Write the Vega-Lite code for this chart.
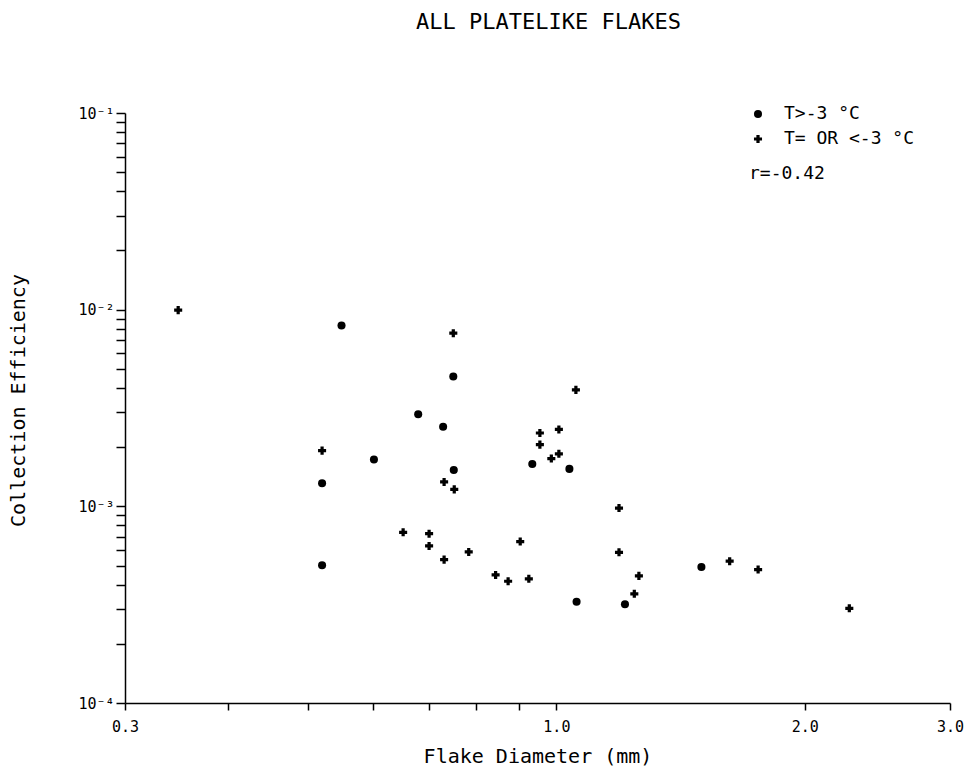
{
  "$schema": "https://vega.github.io/schema/vega-lite/v6.json",
  "width": 825,
  "height": 590,
  "autosize": {"type": "none"},
  "padding": {"left": 125, "top": 113, "right": 26, "bottom": 66},
  "background": "white",
  "config": {"view": {"stroke": null}, "font": "DejaVu Sans Mono"},
  "title": {"text": "ALL PLATELIKE FLAKES", "fontSize": 22, "fontWeight": "normal", "font": "DejaVu Sans Mono", "anchor": "middle", "offset": 71, "dx": 11, "color": "black"},
  "data": {"values": [
    {"d": 0.348, "e": 0.00995, "T": "T= OR <-3 °C"},
    {"d": 0.750, "e": 0.00759, "T": "T= OR <-3 °C"},
    {"d": 1.056, "e": 0.00391, "T": "T= OR <-3 °C"},
    {"d": 0.520, "e": 0.00192, "T": "T= OR <-3 °C"},
    {"d": 0.731, "e": 0.00133, "T": "T= OR <-3 °C"},
    {"d": 0.752, "e": 0.00122, "T": "T= OR <-3 °C"},
    {"d": 0.955, "e": 0.00236, "T": "T= OR <-3 °C"},
    {"d": 1.007, "e": 0.00246, "T": "T= OR <-3 °C"},
    {"d": 0.955, "e": 0.00206, "T": "T= OR <-3 °C"},
    {"d": 1.007, "e": 0.00185, "T": "T= OR <-3 °C"},
    {"d": 0.986, "e": 0.00175, "T": "T= OR <-3 °C"},
    {"d": 1.191, "e": 0.00098, "T": "T= OR <-3 °C"},
    {"d": 0.652, "e": 0.000738, "T": "T= OR <-3 °C"},
    {"d": 0.701, "e": 0.000726, "T": "T= OR <-3 °C"},
    {"d": 0.701, "e": 0.000629, "T": "T= OR <-3 °C"},
    {"d": 0.904, "e": 0.000662, "T": "T= OR <-3 °C"},
    {"d": 0.783, "e": 0.000586, "T": "T= OR <-3 °C"},
    {"d": 1.191, "e": 0.000584, "T": "T= OR <-3 °C"},
    {"d": 0.731, "e": 0.000536, "T": "T= OR <-3 °C"},
    {"d": 0.844, "e": 0.000448, "T": "T= OR <-3 °C"},
    {"d": 0.874, "e": 0.000416, "T": "T= OR <-3 °C"},
    {"d": 0.926, "e": 0.000428, "T": "T= OR <-3 °C"},
    {"d": 1.259, "e": 0.000443, "T": "T= OR <-3 °C"},
    {"d": 1.243, "e": 0.000359, "T": "T= OR <-3 °C"},
    {"d": 1.622, "e": 0.000526, "T": "T= OR <-3 °C"},
    {"d": 1.756, "e": 0.000477, "T": "T= OR <-3 °C"},
    {"d": 2.265, "e": 0.000303, "T": "T= OR <-3 °C"},
    {"d": 0.549, "e": 0.00830, "T": "T>-3 °C"},
    {"d": 0.750, "e": 0.00457, "T": "T>-3 °C"},
    {"d": 0.680, "e": 0.00294, "T": "T>-3 °C"},
    {"d": 0.729, "e": 0.00254, "T": "T>-3 °C"},
    {"d": 0.601, "e": 0.00173, "T": "T>-3 °C"},
    {"d": 0.935, "e": 0.00164, "T": "T>-3 °C"},
    {"d": 1.037, "e": 0.00155, "T": "T>-3 °C"},
    {"d": 0.751, "e": 0.00153, "T": "T>-3 °C"},
    {"d": 0.520, "e": 0.00131, "T": "T>-3 °C"},
    {"d": 0.520, "e": 0.000502, "T": "T>-3 °C"},
    {"d": 1.058, "e": 0.000327, "T": "T>-3 °C"},
    {"d": 1.211, "e": 0.000318, "T": "T>-3 °C"},
    {"d": 1.499, "e": 0.000492, "T": "T>-3 °C"}
  ]},
  "mark": {"type": "point", "filled": true, "opacity": 1, "color": "black", "size": 65},
  "encoding": {
    "x": {
      "field": "d", "type": "quantitative",
      "scale": {"type": "log", "domain": [0.3, 3.0], "nice": false},
      "axis": {
        "values": [0.3, 0.4, 0.5, 0.6, 0.7, 0.8, 0.9, 1, 2, 3],
        "labelExpr": "datum.value == 0.3 ? '0.3' : datum.value == 1 ? '1.0' : datum.value == 2 ? '2.0' : datum.value == 3 ? '3.0' : ''",
        "title": "Flake Diameter (mm)",
        "grid": false,
        "domainColor": "black", "domainWidth": 1.5,
        "tickColor": "black", "tickSize": 7, "tickWidth": 1.5,
        "labelFont": "DejaVu Sans Mono", "labelFontSize": 15, "labelColor": "black", "labelPadding": 9,
        "labelFlush": false, "labelOverlap": false,
        "titleFont": "DejaVu Sans Mono", "titleFontSize": 20, "titleFontWeight": "normal", "titleColor": "black", "titlePadding": 12
      }
    },
    "y": {
      "field": "e", "type": "quantitative",
      "scale": {"type": "log", "domain": [0.0001, 0.1], "nice": false},
      "axis": {
        "values": [0.0001, 0.0002, 0.0003, 0.0004, 0.0005, 0.0006, 0.0007, 0.0008, 0.0009, 0.001, 0.002, 0.003, 0.004, 0.005, 0.006, 0.007, 0.008, 0.009, 0.01, 0.02, 0.03, 0.04, 0.05, 0.06, 0.07, 0.08, 0.09, 0.1],
        "labelExpr": "datum.value == 0.1 ? '10⁻¹' : datum.value == 0.01 ? '10⁻²' : datum.value == 0.001 ? '10⁻³' : datum.value == 0.0001 ? '10⁻⁴' : ''",
        "title": "Collection Efficiency",
        "grid": false,
        "domainColor": "black", "domainWidth": 1.5,
        "tickColor": "black", "tickSize": 9, "tickWidth": 1.5,
        "labelFont": "DejaVu Sans Mono", "labelFontSize": 15, "labelColor": "black", "labelPadding": 2,
        "labelFlush": false, "labelOverlap": false,
        "titleFont": "DejaVu Sans Mono", "titleFontSize": 20, "titleFontWeight": "normal", "titleColor": "black",
        "titleX": -107, "titleY": 287, "titleAngle": -90, "titleAlign": "center", "titleBaseline": "middle"
      }
    },
    "shape": {
      "field": "T", "type": "nominal",
      "scale": {"domain": ["T>-3 °C", "T= OR <-3 °C"], "range": ["circle", "cross"]},
      "legend": {
        "orient": "none", "legendX": 624, "legendY": -8,
        "title": "r=-0.42", "titleOrient": "bottom", "titleAnchor": "start",
        "titleFont": "DejaVu Sans Mono", "titleFontSize": 18, "titleFontWeight": "normal", "titleColor": "black", "titlePadding": 17,
        "labelFont": "DejaVu Sans Mono", "labelFontSize": 18, "labelColor": "black", "labelOffset": 17,
        "symbolFillColor": "black", "symbolStrokeColor": "black", "symbolSize": 65, "symbolStrokeWidth": 0,
        "rowPadding": 7, "padding": 0
      }
    }
  }
}
